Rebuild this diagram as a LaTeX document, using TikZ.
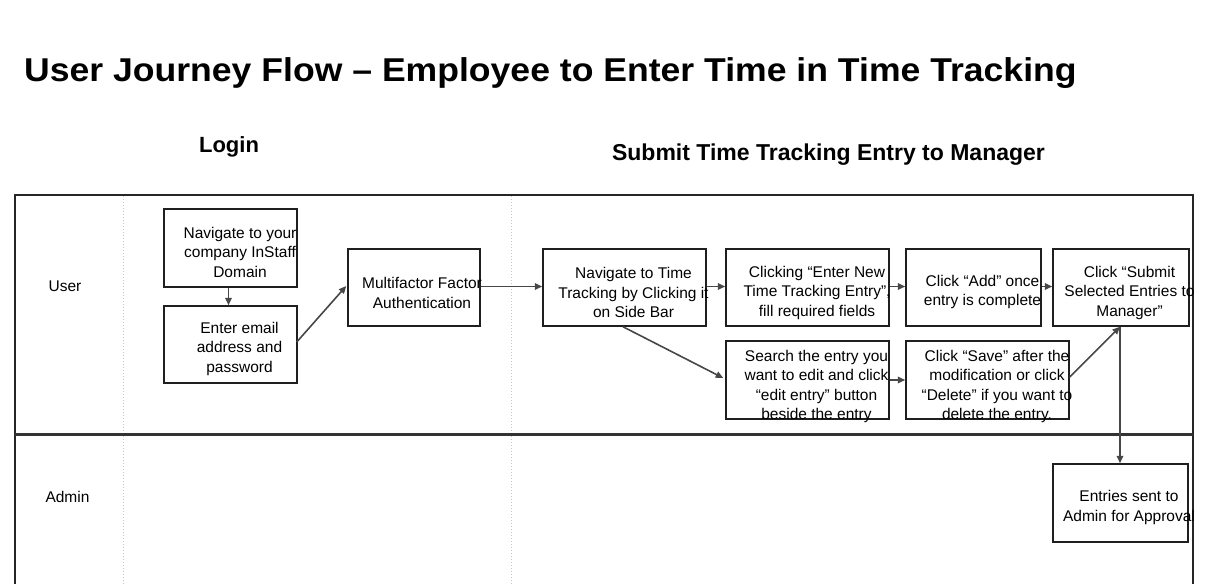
\documentclass[tikz,border=0pt]{standalone}
\usepackage{fontspec}
\setmainfont{Liberation Sans}
\usetikzlibrary{arrows.meta}
\tikzset{
  box/.style={draw=black!88, line width=1.5pt, rectangle, inner sep=0pt},
  txt/.style={align=center, inner sep=0pt, font=\fontsize{15.5}{19.5}\selectfont},
  lane/.style={draw=black!85, line width=1.4pt},
  sep/.style={draw=black!80, line width=2.4pt},
  guide/.style={draw=black!22, line width=1pt, dotted},
  arr/.style={draw=black!72, line width=1.6pt, -{Triangle[length=7.5pt,width=6.5pt]}},
}
\begin{document}
\begin{tikzpicture}[x=1pt,y=-1pt]
\useasboundingbox (0,0) rectangle (1219,584);
\fill[white] (0,0) rectangle (1219,584);

% title and section headings
\node[anchor=base west, inner sep=0pt] (title) at (24,81)
  {\scalebox{1.078}[1]{\fontsize{33}{40}\selectfont\bfseries User Journey Flow – Employee to Enter Time in Time Tracking}};
\node[anchor=base, inner sep=0pt] (login) at (229,152) {\fontsize{22}{26}\selectfont\bfseries Login};
\node[anchor=base, inner sep=0pt] (submit) at (828.5,160) {\fontsize{23}{27}\selectfont\bfseries Submit Time Tracking Entry to Manager};

% swimlane frame
\coordinate (tl) at (15,195);
\coordinate (tr) at (1193,195);
\coordinate (bl) at (15,590);
\coordinate (br) at (1193,590);
\draw[lane] (bl) -- (tl) -- (tr) -- (br);
\coordinate (g1t) at (123,196); \coordinate (g1b) at (123,590);
\coordinate (g2t) at (511,196); \coordinate (g2b) at (511,590);
\draw[guide] (g1t) -- (g1b);
\draw[guide] (g2t) -- (g2b);
\coordinate (sl) at (15,434.5); \coordinate (sr) at (1193,434.5);
\draw[sep] (sl) -- (sr);

\node[txt] (user) at (65,286) {User};
\node[txt] (admin) at (67.5,497) {Admin};

% boxes
\node[box, minimum width=133pt, minimum height=78pt] (a) at (230.5,248) {};
\node[txt] (ta) at (240,252) {Navigate to your\\company InStaff\\Domain};

\node[box, minimum width=133pt, minimum height=77pt] (b) at (230.5,344.5) {};
\node[txt] (tb) at (239.5,348.5) {Enter email\\address and\\password};

\node[box, minimum width=132pt, minimum height=77pt] (c) at (414,287.5) {};
\node[txt] (tc) at (422,293) {Multifactor Factor\\Authentication};

\node[box, minimum width=163pt, minimum height=77pt] (d) at (624.5,287.5) {};
\node[txt] (td) at (633.5,292.5) {Navigate to Time\\Tracking by Clicking it\\on Side Bar};

\node[box, minimum width=163pt, minimum height=77pt] (e) at (807.5,287.5) {};
\node[txt] (te) at (817,292.5) {Clicking “Enter New\\Time Tracking Entry”,\\fill required fields};

\node[box, minimum width=135pt, minimum height=77pt] (f) at (973.5,287.5) {};
\node[txt] (tf) at (982.5,292) {Click “Add” once\\entry is complete};

\node[box, minimum width=136pt, minimum height=77pt] (g) at (1121,287.5) {};
\node[txt] (tg) at (1129.5,292.5) {Click “Submit\\Selected Entries to\\Manager”};

\node[box, minimum width=163pt, minimum height=78pt] (h) at (807.5,380) {};
\node[txt] (th) at (816.5,386.5) {Search the entry you\\want to edit and click\\“edit entry” button\\beside the entry};

\node[box, minimum width=163pt, minimum height=78pt] (i) at (987.5,380) {};
\node[txt] (ti) at (997,386.5) {Click “Save” after the\\modification or click\\“Delete” if you want to\\delete the entry.};

\node[box, minimum width=135pt, minimum height=78pt] (j) at (1120.5,503) {};
\node[txt] (tj) at (1129,507.5) {Entries sent to\\Admin for Approval};

% connectors
\draw[arr] ([shift={(-2,0)}]a.south) -- ([shift={(-2,0)}]b.north);
\draw[arr] ([shift={(-1,-2.5)}]b.east) -- ([shift={(-1,-1.5)}]c.west);
\draw[arr] ([shift={(0,-1)}]c.east) -- ([shift={(0,-1)}]d.west);
\draw[arr] ([shift={(0,-1)}]d.east) -- ([shift={(0,-1)}]e.west);
\draw[arr] ([shift={(0,-1)}]e.east) -- ([shift={(0,-1)}]f.west);
\draw[arr] ([shift={(0,-1)}]f.east) -- ([shift={(0,-1)}]g.west);
\draw[arr] ([shift={(-1.5,0)}]d.south) -- ([shift={(-2,-2)}]h.west);
\draw[arr] (h.east) -- (i.west);
\draw[arr] ([shift={(0,-3)}]i.east) -- ([shift={(-1,0)}]g.south);
\draw[arr] ([shift={(-1,0)}]g.south) -- ([shift={(-0.5,0)}]j.north);
\end{tikzpicture}
\end{document}
